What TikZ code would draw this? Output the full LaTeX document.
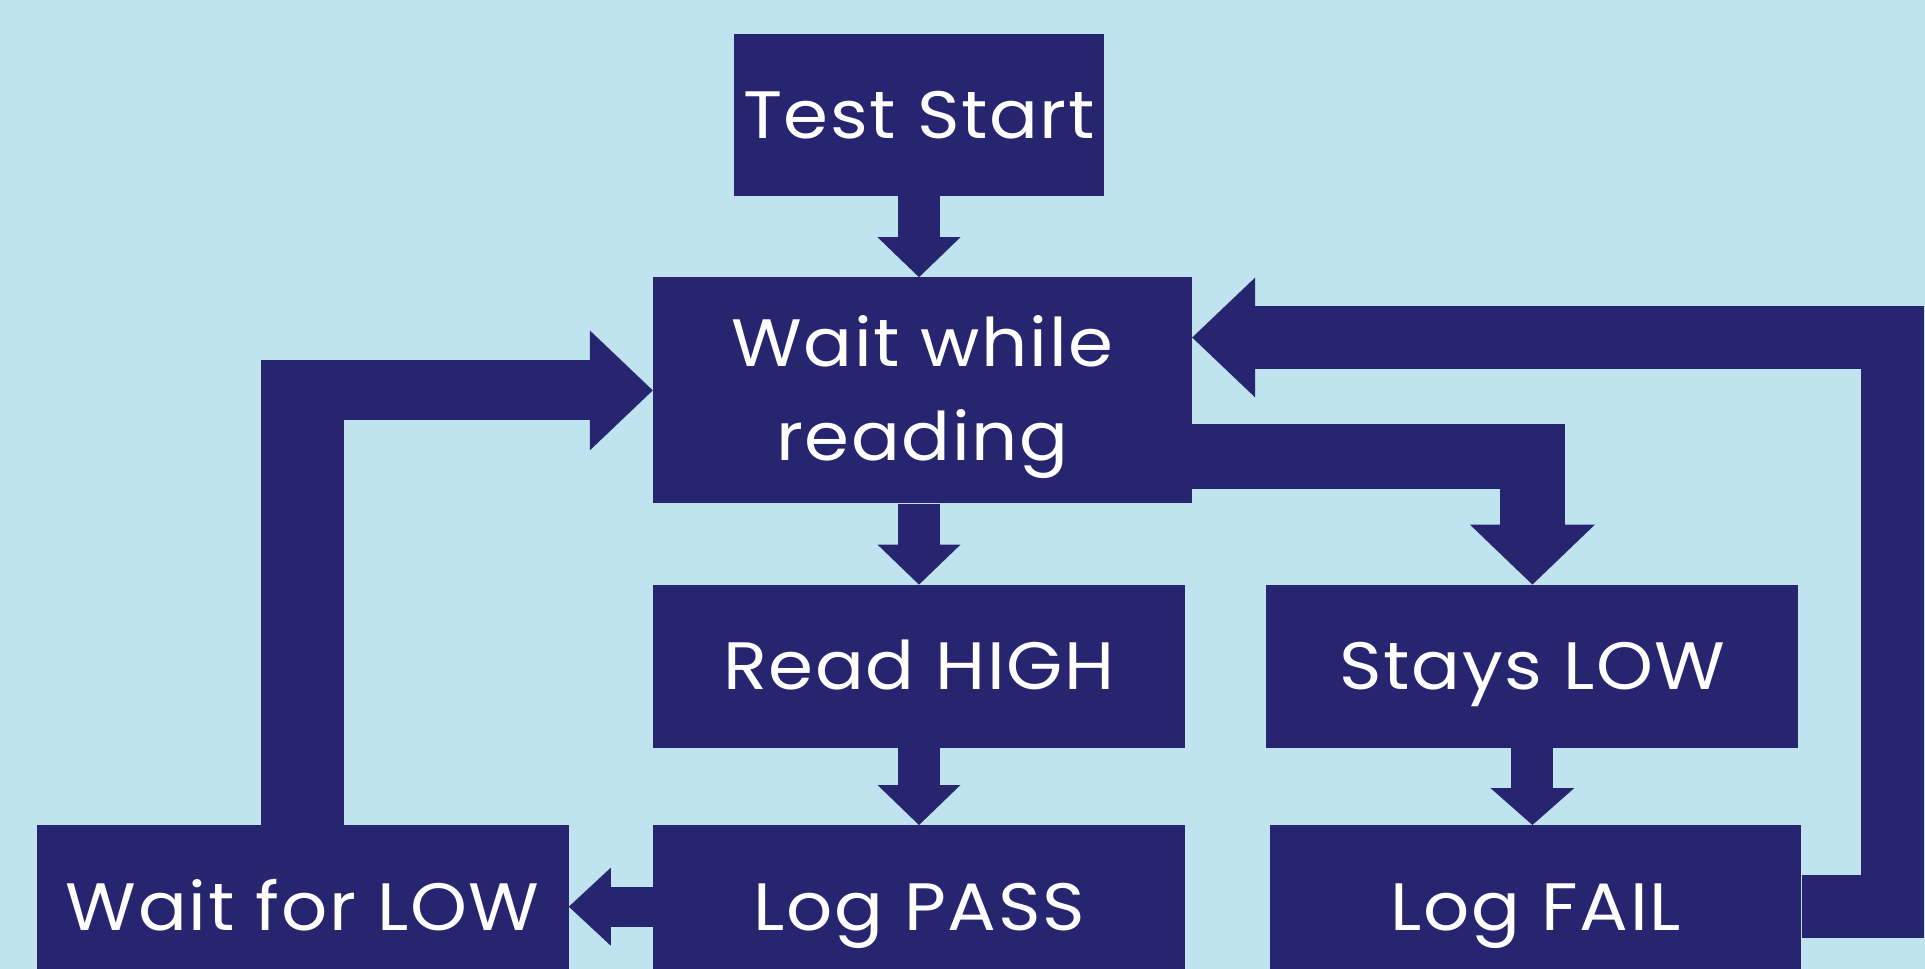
\documentclass[tikz,border=0pt]{standalone}
\usepackage{fontspec}
\setmainfont{Poppins}[FakeStretch=1.08, LetterSpace=2.5]
\usepackage{xcolor}
\usetikzlibrary{positioning,arrows.meta}
\definecolor{skyback}{RGB}{191,228,239}
\definecolor{navyflow}{RGB}{39,37,112}

\begin{document}
\begin{tikzpicture}[
  x=1pt, y=-1pt,
  every node/.style={font=\fontsize{67pt}{94pt}\selectfont, text=white},
  procbox/.style={fill=navyflow, minimum width=532pt, minimum height=163pt, inner sep=0pt, align=center,
    text height=47pt, text depth=0pt},
  blockarrow/.style={draw=navyflow, line cap=butt, line join=miter},
  thinhead/.style={-{Triangle[width=83pt, length=40pt, line width=0pt]}},
  fathead/.style={-{Triangle[width=120pt, length=63pt, line width=0pt]}}
]
\fill[skyback] (0,0) rectangle (1925,969);
\useasboundingbox (0,0) rectangle (1925,969);

\node[procbox, minimum width=370pt, minimum height=162pt] (start) at (919,115) {Test Start};
\node[procbox, minimum width=539pt, minimum height=226pt, text height=141pt, below=81pt of start, xshift=3.5pt] (wait) {Wait while\\reading};
\node[procbox, below=81pt of wait, xshift=-3.5pt] (high) {Read HIGH};
\node[procbox, below=77pt of high] (pass) {Log PASS};
\node[procbox, right=81pt of high] (low) {Stays LOW};
\node[procbox, minimum width=531pt, right=85pt of pass] (fail) {Log FAIL};
\node[procbox, left=84pt of pass] (wlow) {Wait for LOW};

% corners of the loops
\coordinate (rtop) at (1892,337.5);
\coordinate (ltop) at ([yshift=30pt]wlow.north |- wait.west);

\draw[blockarrow, thinhead, line width=42pt] (start.south) -- (start.south |- wait.north);
\draw[blockarrow, thinhead, line width=42pt] (high.north |- wait.south) -- (high.north);
\draw[blockarrow, thinhead, line width=42pt] (high.south) -- (pass.north);
\draw[blockarrow, line width=42pt, -{Triangle[width=84pt, length=37pt, line width=0pt]}] (low.south) -- (low.south |- fail.north);
\draw[blockarrow, line width=40pt, -{Triangle[width=78pt, length=42pt, line width=0pt]}] (pass.west) -- (wlow.east);
\draw[blockarrow, line width=65pt, -{Triangle[width=125pt, length=60pt, line width=0pt]}] ([yshift=-66.5pt]wait.east) -| (low.north);
\draw[blockarrow, fathead, line width=63pt] (fail.east) -| (rtop) -- (rtop -| wait.east);
\draw[blockarrow, line width=83pt] (wlow.north) -- (ltop);
\draw[blockarrow, fathead, line width=60pt] ([xshift=-41.5pt]wlow.north |- wait.west) -- (wait.west);
\end{tikzpicture}
\end{document}
